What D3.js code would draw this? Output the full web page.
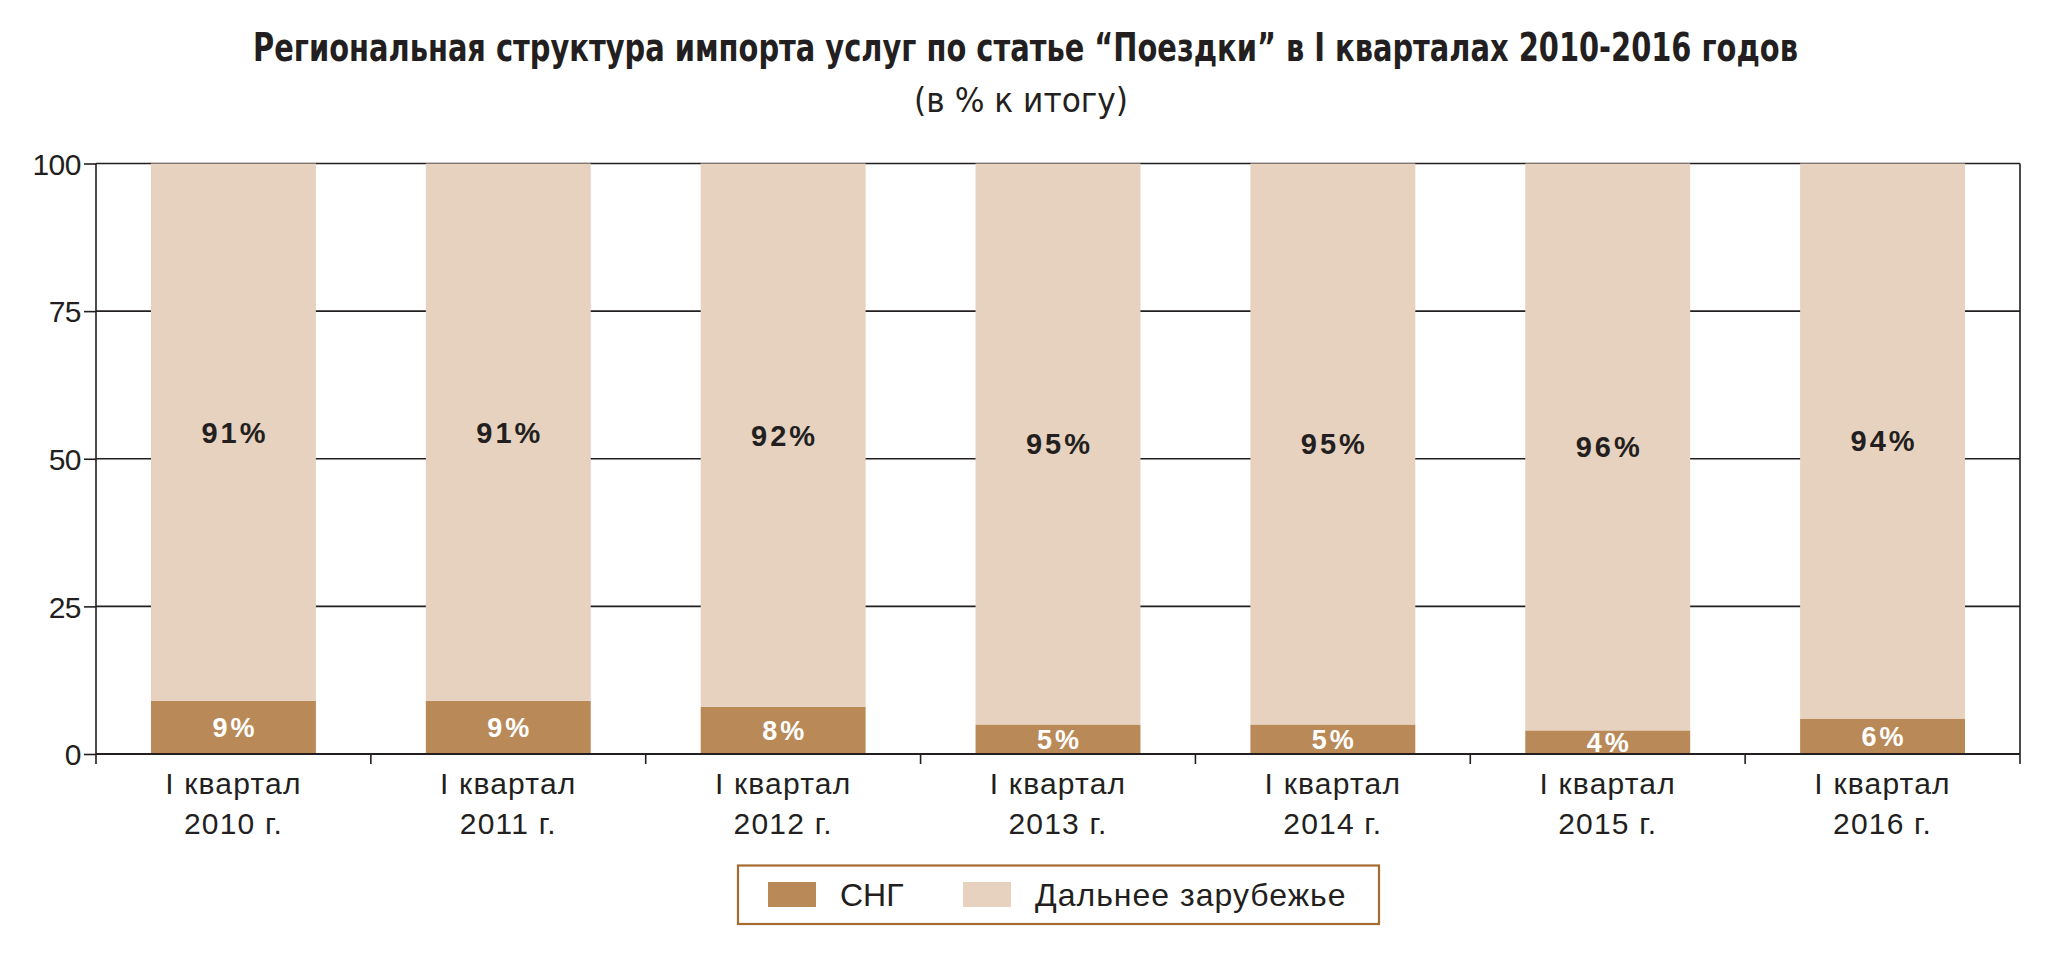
<!DOCTYPE html>
<html>
<head>
<meta charset="utf-8">
<script src="https://cdn.jsdelivr.net/npm/d3@7"></script>
<style>
  html, body { margin: 0; padding: 0; background: #ffffff; }
  svg { display: block; }
</style>
</head>
<body>
<svg id="chart" width="2053" height="975"></svg>
<script>
// ---- data ----
const titleText = "Региональная структура импорта услуг по статье “Поездки” в I кварталах 2010-2016 годов";
const subtitleText = "(в % к итогу)";
const categoriesLine1 = ["I квартал", "I квартал", "I квартал", "I квартал", "I квартал", "I квартал", "I квартал"];
const categoriesLine2 = ["2010 г.", "2011 г.", "2012 г.", "2013 г.", "2014 г.", "2015 г.", "2016 г."];
const categories = ["2010", "2011", "2012", "2013", "2014", "2015", "2016"];
const cisValues = [9, 9, 8, 5, 5, 4, 6];
const farValues = [91, 91, 92, 95, 95, 96, 94];
const seriesNames = ["СНГ", "Дальнее зарубежье"];
const yTicks = [0, 25, 50, 75, 100];

// ---- layout ----
const W = 2053, H = 975;
const m = { left: 96, right: 2020, top: 163.5, bottom: 754 };
const colors = { cis: "#b98a58", far: "#e6d2bf", ink: "#231f20", legendBorder: "#a66b30" };
const narrow = "'Liberation Sans Narrow', 'Arial Narrow', 'DejaVu Sans Condensed', sans-serif";
const regular = "'Liberation Sans', Arial, Helvetica, sans-serif";

const svg = d3.select("#chart");

const x = d3.scaleBand().domain(categories).range([m.left, m.right]).paddingInner(0.4).paddingOuter(0.2);
const y = d3.scaleLinear().domain([0, 100]).range([m.bottom, m.top]);

const rows = categories.map((c, i) => ({ cat: c, cis: cisValues[i], far: farValues[i] }));
const stacked = d3.stack().keys(["cis", "far"])(rows);

// gridlines
svg.append("g")
  .selectAll("line")
  .data(yTicks.filter(t => t > 0))
  .join("line")
  .attr("x1", m.left).attr("x2", m.right)
  .attr("y1", d => y(d)).attr("y2", d => y(d))
  .attr("stroke", colors.ink).attr("stroke-width", 1.6);

// bars
const layer = svg.append("g").selectAll("g")
  .data(stacked)
  .join("g")
  .attr("fill", d => d.key === "cis" ? colors.cis : colors.far);
layer.selectAll("rect")
  .data(d => d)
  .join("rect")
  .attr("x", d => x(d.data.cat))
  .attr("width", x.bandwidth())
  .attr("y", d => y(d[1]))
  .attr("height", d => y(d[0]) - y(d[1]));

// bar value labels
const labels = svg.append("g");
stacked.forEach(s => {
  labels.selectAll(null)
    .data(s)
    .join("text")
    .attr("x", d => x(d.data.cat) + x.bandwidth() / 2 + 1.5)
    .attr("y", d => y((d[0] + d[1]) / 2))
    .attr("dy", "0.36em")
    .attr("text-anchor", "middle")
    .attr("font-family", regular)
    .attr("font-weight", "bold")
    .attr("font-size", s.key === "cis" ? 27 : 29)
    .attr("letter-spacing", 3)
    .attr("fill", s.key === "cis" ? "#ffffff" : colors.ink)
    .text(d => (d[1] - d[0]) + "%");
});

// y axis
const yAxis = d3.axisLeft(y).tickValues(yTicks).tickSize(12).tickPadding(3);
const gy = svg.append("g").attr("transform", `translate(${m.left},0)`).call(yAxis);
gy.select(".domain").attr("stroke", colors.ink).attr("stroke-width", 1.6).attr("d", `M0,${m.top}V${m.bottom + 10}`);
gy.selectAll(".tick line").attr("stroke", colors.ink).attr("stroke-width", 1.6);
gy.selectAll(".tick text")
  .attr("font-family", regular).attr("font-size", 30).attr("fill", colors.ink)
  .attr("letter-spacing", -0.5)
  .attr("dy", "0.36em");

// right frame line
svg.append("line")
  .attr("x1", m.right).attr("x2", m.right)
  .attr("y1", m.top).attr("y2", m.bottom + 10)
  .attr("stroke", colors.ink).attr("stroke-width", 1.6);

// x axis baseline and boundary ticks
svg.append("line")
  .attr("x1", m.left).attr("x2", m.right)
  .attr("y1", m.bottom).attr("y2", m.bottom)
  .attr("stroke", colors.ink).attr("stroke-width", 1.8);
const step = x.step();
const boundaries = d3.range(1, categories.length).map(i => x(categories[0]) - x.paddingOuter() * step + i * step);
svg.append("g").selectAll("line")
  .data(boundaries)
  .join("line")
  .attr("x1", d => d).attr("x2", d => d)
  .attr("y1", m.bottom).attr("y2", m.bottom + 10)
  .attr("stroke", colors.ink).attr("stroke-width", 1.6);

// x labels (two lines)
const xl = svg.append("g");
[[categoriesLine1, 794], [categoriesLine2, 834]].forEach(([lines, yy]) => {
  xl.selectAll(null).data(categories).join("text")
    .attr("x", d => x(d) + x.bandwidth() / 2)
    .attr("y", yy)
    .attr("text-anchor", "middle")
    .attr("font-family", regular).attr("font-size", 30).attr("fill", colors.ink)
    .attr("letter-spacing", 1.2)
    .text((d, i) => lines[i]);
});

// helper: fit text horizontally to a target width by scaling
function fitText(txt, cx, baseY, targetW, opts) {
  const t = svg.append("text")
    .attr("x", 0).attr("y", 0)
    .attr("text-anchor", "middle")
    .attr("font-family", opts.family)
    .attr("font-weight", opts.weight || "normal")
    .attr("font-size", opts.size)
    .attr("fill", colors.ink)
    .text(txt);
  const w = t.node().getComputedTextLength();
  const k = w > 0 ? targetW / w : 1;
  t.attr("transform", `translate(${cx},${baseY}) scale(${k},1)`);
  return t;
}

fitText(titleText, 1025.5, 61, 1545, { family: narrow, weight: "bold", size: 39 });
fitText(subtitleText, 1021, 112, 214, { family: narrow, size: 33 });

// legend
const lg = svg.append("g");
lg.append("rect")
  .attr("x", 738).attr("y", 865.5).attr("width", 641).attr("height", 58.5)
  .attr("fill", "none").attr("stroke", colors.legendBorder).attr("stroke-width", 2.2);
const legendItems = [
  { name: seriesNames[0], color: colors.cis, sx: 768, tx: 840, ls: 0 },
  { name: seriesNames[1], color: colors.far, sx: 963, tx: 1035, ls: 1 }
];
lg.selectAll("rect.sw").data(legendItems).join("rect")
  .attr("class", "sw")
  .attr("x", d => d.sx).attr("y", 882).attr("width", 48).attr("height", 25)
  .attr("fill", d => d.color);
lg.selectAll("text").data(legendItems).join("text")
  .attr("x", d => d.tx).attr("y", 906)
  .attr("font-family", regular).attr("font-size", 32).attr("fill", colors.ink)
  .attr("letter-spacing", d => d.ls)
  .text(d => d.name);
</script>
</body>
</html>
